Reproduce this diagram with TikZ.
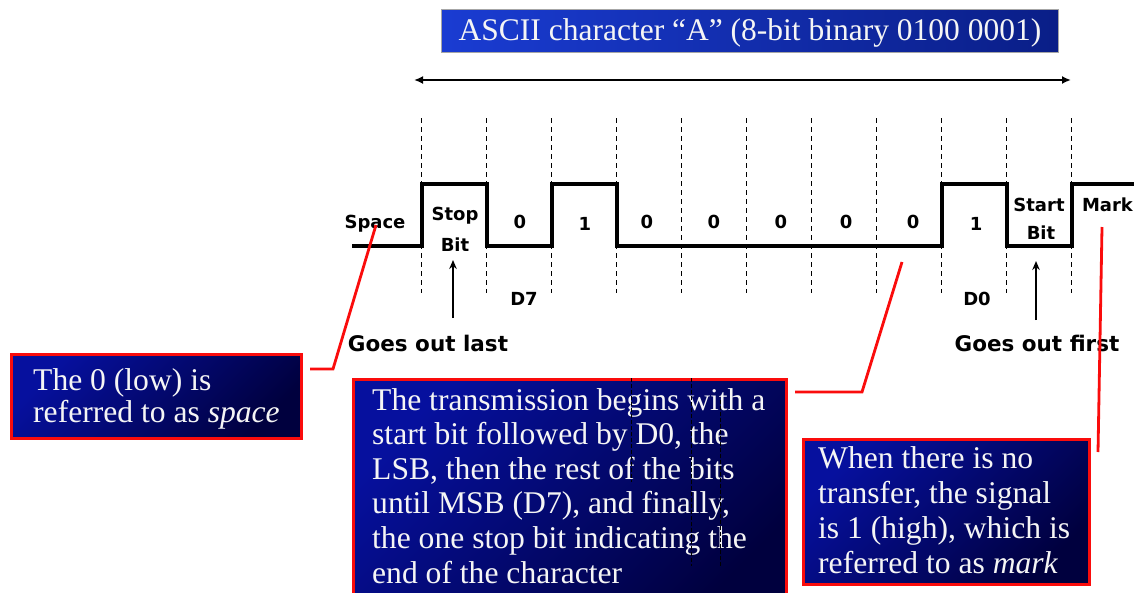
\documentclass[tikz,border=0pt]{standalone}
\usepackage{fontspec}
\setmainfont{Liberation Serif}
\newfontfamily\verd{DejaVu Sans}
\usetikzlibrary{arrows.meta}
\definecolor{titleL}{RGB}{26,60,210}
\definecolor{titleR}{RGB}{10,30,135}
\definecolor{boxTL}{RGB}{6,16,158}
\definecolor{boxBR}{RGB}{0,0,62}
\definecolor{callred}{RGB}{250,12,12}
\definecolor{txtwhite}{RGB}{245,245,245}
\begin{document}
\begin{tikzpicture}[x=1pt,y=-1pt,
  lbl/.style={font=\verd\bfseries\fontsize{18}{20}\selectfont, inner sep=0pt, anchor=base},
  big/.style={font=\verd\bfseries\fontsize{21.5}{24}\selectfont, inner sep=0pt, anchor=base},
  callout/.style={draw=callred, line width=3pt, top color=boxTL, bottom color=boxBR, shading angle=45, anchor=north west, inner sep=0pt},
  ctext/.style={text=txtwhite, align=left, inner sep=0pt, anchor=base west},
  dashv/.style={dash pattern=on 5pt off 4pt, line width=1.1pt},
  artif/.style={dash pattern=on 4pt off 2pt, line width=0.8pt},
  sig/.style={line width=4pt, line join=miter},
  conn/.style={draw=callred, line width=2.8pt},
  pointer/.style={-{Stealth[length=9pt,width=7.5pt]}, line width=2.2pt}
]
\useasboundingbox (0,0) rectangle (1134,592);

% title
\node[draw=gray!70, line width=0.8pt, left color=titleL, right color=titleR, minimum width=617pt, minimum height=42.5pt, inner sep=0pt, anchor=north west] (titlebox) at (441,9.3) {};
\node[text=txtwhite, font=\fontsize{31.5}{34}\selectfont, inner sep=0pt, anchor=base] (titletext) at (750,40.7) {ASCII character “A” (8-bit binary 0100 0001)};

% span arrow
\coordinate (spanL) at (414,80);
\coordinate (spanR) at (1071,80);
\draw[{Latex[length=9pt,width=8pt]}-{Latex[length=9pt,width=8pt]}, line width=2.6pt] (spanL) -- (spanR);

% dashed bit boundaries
\foreach \i in {0,...,10} \draw[dashv] ({421.5+65*\i},118) -- ({421.5+65*\i},293);

% waveform
\draw[sig] (352,246) -- (421.5,246) -- (421.5,184) -- (486.5,184) -- (486.5,246) -- (551.5,246) -- (551.5,184) -- (616.5,184) -- (616.5,246) -- (941.5,246) -- (941.5,184) -- (1006.5,184) -- (1006.5,246) -- (1071.5,246) -- (1071.5,184) -- (1140,184);

% labels
\node[lbl] (space) at (375,228) {Space};
\node[lbl] (stopA) at (455,220) {Stop};
\node[lbl] (stopB) at (455,251.5) {Bit};
\node[lbl] (d7) at (520,228) {0};
\node[lbl] (d6) at (585,230) {1};
\node[lbl] (d5) at (647,228) {0};
\node[lbl] (d4) at (714,228) {0};
\node[lbl] (d3) at (781,228) {0};
\node[lbl] (d2) at (846,228) {0};
\node[lbl] (d1) at (913,228) {0};
\node[lbl] (d0) at (976,230) {1};
\node[lbl] (startA) at (1039,211.5) {Start};
\node[lbl] (startB) at (1041,239) {Bit};
\node[lbl] (mark) at (1107.5,211.5) {Mark};
\node[lbl] (lD7) at (524,305) {D7};
\node[lbl] (lD0) at (977,305.5) {D0};
\node[big] (last) at (428,351.5) {Goes out last};
\node[big] (first) at (1037,351) {Goes out first};

% pointer arrows
\coordinate (lastT) at (453,318);
\coordinate (lastH) at (453,260);
\coordinate (firstT) at (1036,320);
\coordinate (firstH) at (1036,261);
\draw[pointer] (lastT) -- (lastH);
\draw[pointer] (firstT) -- (firstH);

% callout boxes (text nodes are anchored at the baseline of their last line)
\node[callout, minimum width=290pt, minimum height=84pt] (lbox) at (10,353) {};
\node[ctext, font=\fontsize{31.6}{32}\selectfont] (ltext) at (33,422.7) {The 0 (low) is\\referred to as \textit{space}};

\begin{scope}
\clip (0,0) rectangle (1134,592);
\node[callout, minimum width=433pt, minimum height=240pt] (mbox) at (352,378) {};
\end{scope}
\node[ctext, font=\fontsize{31.6}{34.6}\selectfont] (mtext) at (372,583) {The transmission begins with a\\start bit followed by D0, the\\LSB, then the rest of the bits\\until MSB (D7), and finally,\\the one stop bit indicating the\\end of the character};
\draw[artif] (631,378) -- (631,482);
\draw[artif] (691,378) -- (691,566);
\draw[artif] (720,400) -- (720,566);

\node[callout, minimum width=286pt, minimum height=145pt] (rbox) at (802,438) {};
\node[ctext, font=\fontsize{31.6}{35}\selectfont] (rtext) at (818,573) {When there is no\\transfer, the signal\\is 1 (high), which is\\referred to as \textit{mark}};

% red connectors
\coordinate (c1a) at (310,369);
\coordinate (c1b) at (333,369);
\coordinate (c1c) at (376,225);
\draw[conn] (c1a) -- (c1b) -- (c1c);
\coordinate (c2a) at (795,392);
\coordinate (c2b) at (862,392);
\coordinate (c2c) at (902,262);
\draw[conn] (c2a) -- (c2b) -- (c2c);
\coordinate (c3a) at (1098,452);
\coordinate (c3b) at (1102,227);
\draw[conn] (c3a) -- (c3b);
\end{tikzpicture}
\end{document}
